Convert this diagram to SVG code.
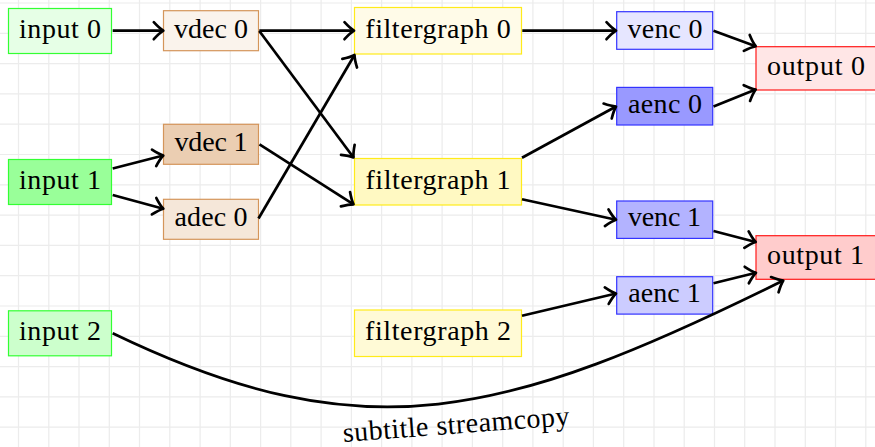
<svg xmlns="http://www.w3.org/2000/svg" width="875" height="447" viewBox="0 0 875 447">
<defs>
<style>
.grid{stroke:#ececec;stroke-width:1.2;fill:none}
.n rect{stroke-width:1.2}
.t{font-family:"Liberation Serif","Times New Roman",serif;font-size:28px;text-anchor:middle;fill:#000}
.e{stroke:#000;stroke-width:2.7;fill:none;marker-end:url(#ah)}
.gi rect{stroke:#33ff33}
.dc rect{stroke:#d4955a}
.fg rect{stroke:#ffeb1a}
.ec rect{stroke:#3333ff}
.op rect{stroke:#ff1a1a}
</style>
<marker id="ah" markerUnits="userSpaceOnUse" markerWidth="30" markerHeight="30" viewBox="-15 -15 30 30" refX="0" refY="0" orient="auto" overflow="visible">
<path d="M-9.5,-8.5 Q-4,-2.5 0,0 Q-4,2.5 -9.5,8.5" fill="none" stroke="#000" stroke-width="2.7" stroke-linecap="round" stroke-linejoin="round"/>
</marker>
</defs>
<rect width="875" height="447" fill="#fff"/>
<path class="grid" d="M18.5,0V447M48.8,0V447M79.0,0V447M109.3,0V447M139.5,0V447M169.8,0V447M200.1,0V447M230.3,0V447M260.6,0V447M290.8,0V447M321.1,0V447M351.4,0V447M381.6,0V447M411.9,0V447M442.1,0V447M472.4,0V447M502.7,0V447M532.9,0V447M563.2,0V447M593.4,0V447M623.7,0V447M654.0,0V447M684.2,0V447M714.5,0V447M744.7,0V447M775.0,0V447M805.3,0V447M835.5,0V447M865.8,0V447M0,3H875M0,33.3H875M0,63.6H875M0,93.9H875M0,124.2H875M0,154.5H875M0,184.8H875M0,215.1H875M0,245.4H875M0,275.7H875M0,306H875M0,336.3H875M0,366.6H875M0,396.9H875M0,427.2H875"/>

<g id="input0" class="n gi"><rect x="8.5" y="8.5" width="103" height="45" fill="#e6ffe6"/><text class="t" x="60" y="37.5" textLength="82">input 0</text></g>
<g id="input1" class="n gi"><rect x="8.5" y="159.5" width="103" height="45" fill="#99ff99"/><text class="t" x="60" y="188.5" textLength="82">input 1</text></g>
<g id="input2" class="n gi"><rect x="8.5" y="310.8" width="103" height="45" fill="#ccffcc"/><text class="t" x="60" y="340" textLength="82">input 2</text></g>

<g id="vdec0" class="n dc"><rect x="163.5" y="10.7" width="95" height="40" fill="#faf3ec"/><text class="t" x="211" y="37.5" textLength="74">vdec 0</text></g>
<g id="vdec1" class="n dc"><rect x="163.5" y="124.3" width="95" height="40" fill="#ebceb2"/><text class="t" x="211" y="151" textLength="73">vdec 1</text></g>
<g id="adec0" class="n dc"><rect x="163.5" y="199.3" width="95" height="40" fill="#f5e7d9"/><text class="t" x="211" y="226.3" textLength="73">adec 0</text></g>

<g id="filtergraph0" class="n fg"><rect x="354.5" y="7.5" width="167" height="46.5" fill="#fffbe8"/><text class="t" x="438" y="37.5" textLength="145.5">filtergraph 0</text></g>
<g id="filtergraph1" class="n fg"><rect x="354.5" y="158.5" width="167" height="46.5" fill="#fff9c2"/><text class="t" x="438" y="188.5" textLength="145">filtergraph 1</text></g>
<g id="filtergraph2" class="n fg"><rect x="354.5" y="310" width="167" height="46.5" fill="#fffad6"/><text class="t" x="438" y="340" textLength="146">filtergraph 2</text></g>

<g id="venc0" class="n ec"><rect x="616.7" y="11.7" width="96" height="37.6" fill="#e6e6ff"/><text class="t" x="665" y="37.5" textLength="75">venc 0</text></g>
<g id="aenc0" class="n ec"><rect x="616.7" y="87.4" width="96" height="37.6" fill="#9999ff"/><text class="t" x="665" y="113" textLength="74">aenc 0</text></g>
<g id="venc1" class="n ec"><rect x="616.7" y="201" width="96" height="37.4" fill="#b3b3ff"/><text class="t" x="664.5" y="226.3" textLength="73">venc 1</text></g>
<g id="aenc1" class="n ec"><rect x="616.7" y="276.7" width="96" height="37.4" fill="#ccccff"/><text class="t" x="664.5" y="302" textLength="72.5">aenc 1</text></g>

<g id="output0" class="n op"><rect x="756" y="46.7" width="122" height="43.3" fill="#ffe6e6"/><text class="t" x="816" y="75" textLength="98">output 0</text></g>
<g id="output1" class="n op"><rect x="756" y="235.7" width="122" height="43.6" fill="#ffcccc"/><text class="t" x="815.5" y="264.3" textLength="97">output 1</text></g>

<g id="connectors">
<path class="e" d="M112.7,30.7L163.3,30.7"/>
<path class="e" d="M259.3,30.7L354,30.7"/>
<path class="e" d="M259.3,31L353.5,157.5"/>
<path class="e" d="M259.5,144.3L353.5,204.3"/>
<path class="e" d="M258.5,218.5L354.5,55"/>
<path class="e" d="M112.7,168.5L163.3,155.5"/>
<path class="e" d="M112.7,195L163.3,208.7"/>
<path class="e" d="M522.3,30.7L616,30.7"/>
<path class="e" d="M522,157.8L616,106.5"/>
<path class="e" d="M522,199.3L616,219.8"/>
<path class="e" d="M713.5,30.7L755.7,46.2"/>
<path class="e" d="M713.5,106.5L755.7,89.5"/>
<path class="e" d="M713.5,231L755.7,242"/>
<path class="e" d="M713.5,283.3L756,272.7"/>
<path class="e" d="M522,315.7L616,293.5"/>
<path class="e" d="M112.7,333.2C365,455 505,418 783.3,280.5"/>
<text class="t" x="456.7" y="433.5" textLength="227" transform="rotate(-4.3 456.7 433.5)">subtitle streamcopy</text>
</g>
</svg>
